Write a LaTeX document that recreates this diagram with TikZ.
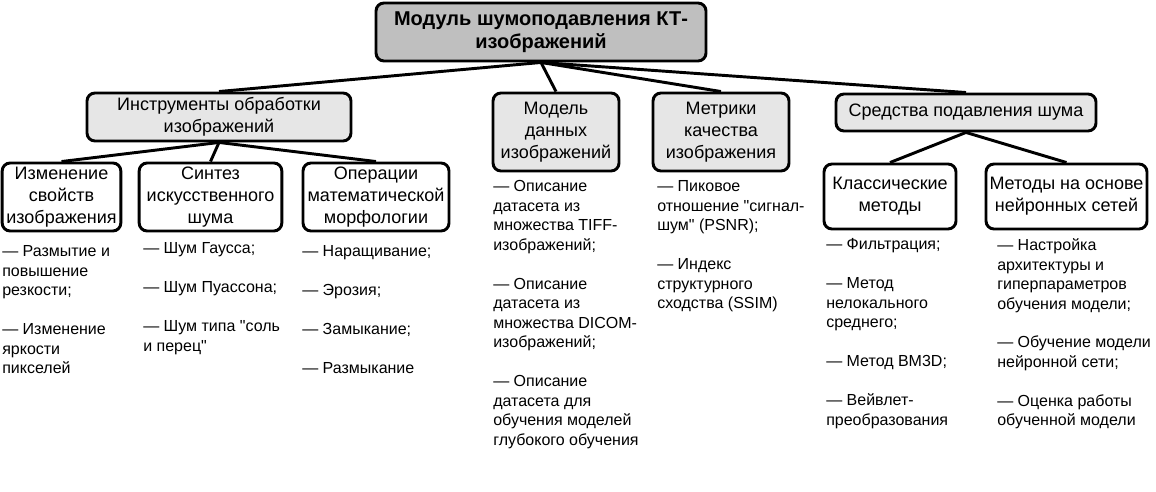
\documentclass[tikz,border=0pt]{standalone}
\usepackage{fontspec}
\setmainfont{Liberation Sans}[Ligatures=TeXOff]
\usetikzlibrary{positioning}
\definecolor{rootgray}{RGB}{191,191,191}
\definecolor{lightgray}{RGB}{230,230,230}

\begin{document}
\begin{tikzpicture}[x=0.75pt, y=-0.75pt]
\tikzstyle{box} = [rectangle, rounded corners=6pt, draw=black, line width=2.2pt, align=center, inner sep=1pt, font=\fontsize{13.5}{16.5}\selectfont]
\tikzstyle{root} = [box, fill=rootgray, font=\fontsize{15}{17.25}\selectfont\bfseries]
\tikzstyle{group} = [box, fill=lightgray]
\tikzstyle{leaf} = [box, fill=white]
\tikzstyle{list} = [anchor=north west, align=left, inner sep=0pt, font=\fontsize{12}{14.6}\selectfont]
\tikzstyle{link} = [line width=2.2pt]

\useasboundingbox (0,0) rectangle (1156,492);

\node (module) [root, minimum width=247.5pt, minimum height=43.5pt] at (541,32) {Модуль шумоподавления КТ-\\изображений};

\node (tools) [group, minimum width=198pt, minimum height=36pt] at (219,117) {Инструменты обработки\\изображений};
\node (datamodel) [group, minimum width=94.5pt, minimum height=58.5pt] at (556,132) {Модель\\данных\\изображений};
\node (metrics) [group, minimum width=102pt, minimum height=58.5pt] at (721,132) {Метрики\\качества\\изображения};
\node (denoise) [group, minimum width=195pt, minimum height=27.75pt] at (966,112.5) {Средства подавления шума};

\node (props) [leaf, minimum width=89pt, minimum height=51pt] at (61.5,197) {Изменение\\свойств\\изображения};
\node (synth) [leaf, minimum width=107pt, minimum height=51pt] at (210.5,197) {Синтез\\искусственного\\шума};
\node (morph) [leaf, minimum width=109.5pt, minimum height=51pt] at (376,197) {Операции\\математической\\морфологии};
\node (classic) [leaf, minimum width=99pt, minimum height=48.75pt] at (890,196.5) {Классические\\методы};
\node (neural) [leaf, minimum width=120.75pt, minimum height=48.75pt] at (1066.5,196.5) {Методы на основе\\нейронных сетей};

\node (propslist) [list] at (2,245.5) {— Размытие и\\повышение\\резкости;\\[14.6pt]— Изменение\\яркости\\пикселей};
\node (synthlist) [list] at (143,242.5) {— Шум Гаусса;\\[14.6pt]— Шум Пуассона;\\[14.6pt]— Шум типа "соль\\и перец"};
\node (morphlist) [list] at (302,245.5) {— Наращивание;\\[14.6pt]— Эрозия;\\[14.6pt]— Замыкание;\\[14.6pt]— Размыкание};
\node (datalist) [list] at (493,180.5) {— Описание\\датасета из\\множества TIFF-\\изображений;\\[14.6pt]— Описание\\датасета из\\множества DICOM-\\изображений;\\[14.6pt]— Описание\\датасета для\\обучения моделей\\глубокого обучения};
\node (metricslist) [list] at (657,180.5) {— Пиковое\\отношение "сигнал-\\шум" (PSNR);\\[14.6pt]— Индекс\\структурного\\сходства (SSIM)};
\node (classiclist) [list] at (826,238.5) {— Фильтрация;\\[14.6pt]— Метод\\нелокального\\среднего;\\[14.6pt]— Метод BM3D;\\[14.6pt]— Вейвлет-\\преобразования};
\node (neurallist) [list] at (997,238.5) {— Настройка\\архитектуры и\\гиперпараметров\\обучения модели;\\[14.6pt]— Обучение модели\\нейронной сети;\\[14.6pt]— Оценка работы\\обученной модели};

\draw [link] (module.south) -- (tools.north);
\draw [link] (module.south) -- (datamodel.north);
\draw [link] (module.south) -- (metrics.north);
\draw [link] (module.south) -- (denoise.north);
\draw [link] (tools.south) -- (props.north);
\draw [link] (tools.south) -- (synth.north);
\draw [link] (tools.south) -- (morph.north);
\draw [link] (denoise.south) -- (classic.north);
\draw [link] (denoise.south) -- (neural.north);
\end{tikzpicture}
\end{document}
